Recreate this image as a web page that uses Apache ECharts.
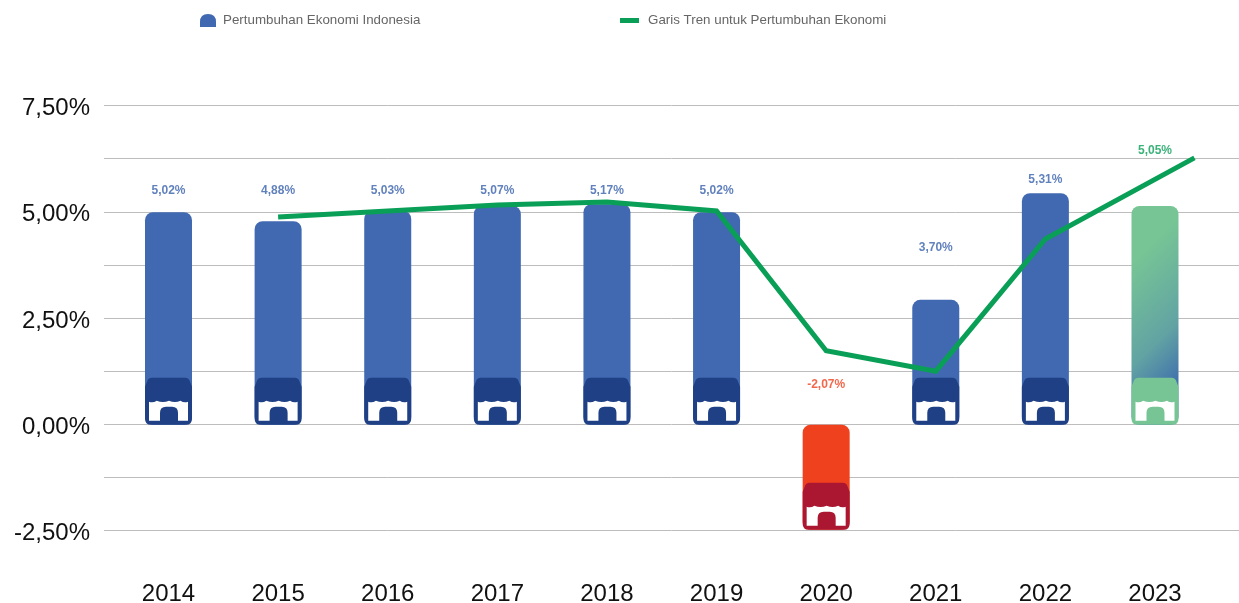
<!DOCTYPE html>
<html>
<head>
<meta charset="utf-8">
<title>Pertumbuhan Ekonomi Indonesia</title>
<style>
    html, body { margin: 0; padding: 0; background: #fff; }
    #growth-chart { width: 1239px; height: 603px; }
</style>
<script src="https://cdn.jsdelivr.net/npm/echarts@6/dist/echarts.min.js"></script>
</head>
<body>
<div id="growth-chart"></div>
<script>
var years = ['2014', '2015', '2016', '2017', '2018', '2019', '2020', '2021', '2022', '2023'];
// bar heights as drawn in the picture (they do not follow the printed labels exactly)
var barValues = [5.0, 4.79, 5.03, 5.15, 5.19, 5.0, -2.47, 2.94, 5.45, 5.15];
var valueLabels = ['5,02%', '4,88%', '5,03%', '5,07%', '5,17%', '5,02%', '-2,07%', '3,70%', '5,31%', '5,05%'];
var labelHeights = [5.51, 5.51, 5.51, 5.51, 5.51, 5.51, 0.95, 4.17, 5.77, 6.45];
var trendX = [1, 2, 3, 4, 5, 6, 7, 8, 9.36];
var trendValues = [4.89, 5.03, 5.17, 5.24, 5.03, 1.74, 1.26, 4.37, 6.28];
var yTickLabels = ['-2,50%', '', '0,00%', '', '2,50%', '', '5,00%', '', '7,50%'];

var barName = 'Pertumbuhan Ekonomi Indonesia';
var lineName = 'Garis Tren untuk Pertumbuhan Ekonomi';

var blue = '#4169B1', darkBlue = '#1F4085';
var red = '#F0411E', darkRed = '#AB1730';
var green = '#0A9F57', lightGreen = '#77C595';
var fontName = '"Liberation Sans", Arial, sans-serif';

initGrowthChart();

function barColor(index) {
    if (index === 6) {
        return red;
    }
    if (index === 9) {
        // the fade runs at about 45 degrees on the real bar, so the start sits outside of it
        return {
            type: 'linear', x: -1.13, y: 0.32, x2: 1, y2: 0.78,
            colorStops: [
                { offset: 0.2, color: lightGreen },
                { offset: 0.72, color: '#62A3A3' },
                { offset: 1, color: '#4375AB' }
            ]
        };
    }
    return blue;
}

function iconColor(index) {
    if (index === 6) {
        return darkRed;
    }
    return index === 9 ? lightGreen : darkBlue;
}

function labelColor(index) {
    if (index === 6) {
        return red;
    }
    return index === 9 ? green : '#3A62AD';
}

/*---------------------------- toko icon at the foot of each bar ----------------------------*/
function renderStore(params, api) {
    var index = api.value(0);
    var zero = api.coord([index, 0]);
    var end = api.coord([index, api.value(1)]);
    var bottom = Math.max(zero[1], end[1]);
    var color = iconColor(index);

    return {
        type: 'group',
        x: zero[0] - 23.5,
        y: bottom - 47,
        children: [
            {
                type: 'path',
                shape: {
                    pathData: 'M7 0H40Q44 0 45 4L47 9V41Q47 47 41 47H6Q0 47 0 41V9L2 4Q3 0 7 0Z',
                    layout: 'cover', x: 0, y: 0, width: 47, height: 47
                },
                style: { fill: color }
            },
            {
                type: 'path',
                shape: {
                    pathData: 'M4 24Q8 25.5 11.7 23Q18 25.5 24 23Q30 25.5 35.5 23Q39 25.5 43 24V43H4Z',
                    layout: 'cover', x: 4, y: 23, width: 39, height: 20
                },
                style: { fill: '#fff' }
            },
            {
                type: 'path',
                shape: {
                    pathData: 'M15 44V35Q15 29 21 29H27Q33 29 33 35V44Z',
                    layout: 'cover', x: 15, y: 29, width: 18, height: 15
                },
                style: { fill: color }
            }
        ]
    };
}

function initGrowthChart() {
    var myChart = echarts.init(document.getElementById('growth-chart'));

    var barData = barValues.map(function (value, index) {
        return { value: value, itemStyle: { color: barColor(index) } };
    });
    var storeData = barValues.map(function (value, index) {
        return [index, value];
    });
    var labelData = labelHeights.map(function (value, index) {
        return {
            value: [index, value],
            label: { color: labelColor(index), formatter: valueLabels[index] }
        };
    });
    var trendData = trendValues.map(function (value, index) {
        return [trendX[index], value];
    });

    var option = {
        animation: false,
        backgroundColor: '#fff',
        textStyle: { fontFamily: fontName },
        legend: [
            {
                left: 200, top: 14, padding: 0, itemWidth: 16, itemHeight: 13,
                data: [{ name: barName, icon: 'path://M0 13V8Q0 0 8 0Q16 0 16 8V13Z' }],
                textStyle: { color: '#666', fontSize: 13.35, fontFamily: fontName, padding: [2, 0, 0, 2] }
            },
            {
                left: 620, top: 14, padding: 0, itemWidth: 19, itemHeight: 5,
                data: [{ name: lineName, icon: 'rect' }],
                textStyle: { color: '#666', fontSize: 13.35, fontFamily: fontName, padding: [2, 0, 0, 4] }
            }
        ],
        // grid 0 only carries the long gridlines, grid 1 the categories and marks
        grid: [
            { left: 104, right: 0, top: 105.5, bottom: 72.5, outerBoundsMode: 'none' },
            { left: 113.7, right: 29.2, top: 106, bottom: 72, outerBoundsMode: 'none' }
        ],
        xAxis: [
            { type: 'value', gridIndex: 0, min: 0, max: 1, show: false },
            {
                type: 'category', gridIndex: 1, data: years,
                axisLine: { show: false, onZero: false },
                axisTick: { show: false },
                axisLabel: { interval: 0, color: '#111', fontSize: 24, margin: 51, fontFamily: fontName }
            },
            { type: 'value', gridIndex: 1, min: -0.5, max: 9.5, show: false }
        ],
        yAxis: [
            {
                type: 'value', gridIndex: 0, min: -2.5, max: 7.5, interval: 1.25,
                axisLine: { show: false },
                axisTick: { show: false },
                axisLabel: {
                    color: '#111', fontSize: 24, margin: 14, fontFamily: fontName,
                    verticalAlign: 'top', lineHeight: 6,
                    formatter: function (value) {
                        return yTickLabels[Math.round((value + 2.5) / 1.25)];
                    }
                },
                splitLine: { show: true, lineStyle: { color: '#BDBDBD', width: 1 } }
            },
            { type: 'value', gridIndex: 1, min: -2.5, max: 7.5, show: false }
        ],
        series: [
            {
                name: barName,
                type: 'bar',
                xAxisIndex: 1,
                yAxisIndex: 1,
                barWidth: 47,
                color: blue,
                itemStyle: { borderRadius: 8 },
                data: barData,
                z: 2
            },
            {
                name: 'toko',
                type: 'custom',
                xAxisIndex: 1,
                yAxisIndex: 1,
                renderItem: renderStore,
                data: storeData,
                z: 3
            },
            {
                name: lineName,
                type: 'line',
                xAxisIndex: 2,
                yAxisIndex: 1,
                color: green,
                symbol: 'none',
                lineStyle: { color: green, width: 5, join: 'miter', cap: 'butt' },
                data: trendData,
                z: 4
            },
            {
                name: 'label',
                type: 'scatter',
                xAxisIndex: 1,
                yAxisIndex: 1,
                symbolSize: 1,
                itemStyle: { color: 'transparent' },
                label: { show: true, position: 'inside', fontSize: 12, fontWeight: 'bold', fontFamily: fontName },
                data: labelData,
                z: 5
            }
        ]
    };

    myChart.setOption(option);
}
</script>
</body>
</html>
